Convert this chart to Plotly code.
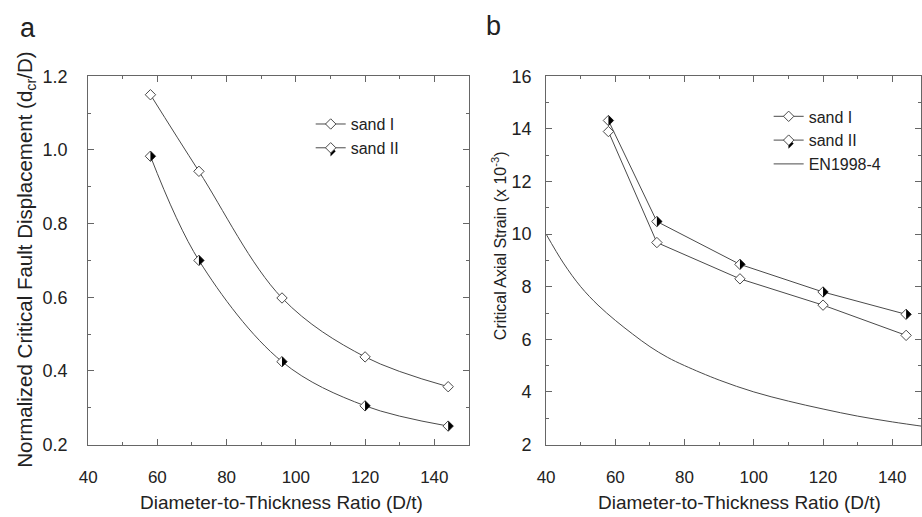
import plotly.graph_objects as go

# ---------------- data ----------------
dt = [58, 72, 96, 120, 144]
a_sand1 = [1.150, 0.942, 0.598, 0.438, 0.357]
a_sand2 = [0.983, 0.700, 0.425, 0.305, 0.250]
b_sand1 = [13.90, 9.68, 8.30, 7.30, 6.15]
b_sand2 = [14.32, 10.48, 8.85, 7.80, 6.95]
en_dt = [40, 45, 50, 55, 60, 65, 70, 75, 80, 90, 100, 110, 120, 130, 140, 150]
en_strain = [10.0, 8.9, 8.0, 7.3, 6.72, 6.2, 5.72, 5.32, 5.0, 4.45, 4.0, 3.65, 3.35, 3.08, 2.86, 2.67]

W, H = 922, 517
LINE = '#4a4a4a'
AX = '#666666'
TXT = '#222222'
FONT = 'Liberation Sans, Arial, sans-serif'
MS = 8

fig = go.Figure()

def mk():
    return dict(symbol='diamond', size=MS, color='white', line=dict(color=LINE, width=1))

# panel a
fig.add_trace(go.Scatter(x=dt, y=a_sand1, mode='lines+markers', name='sand I',
                         line=dict(color=LINE, width=1, shape='spline'), marker=mk(),
                         xaxis='x', yaxis='y', legend='legend2'))
fig.add_trace(go.Scatter(x=dt, y=a_sand2, mode='lines+markers', name='sand II',
                         line=dict(color=LINE, width=1, shape='spline'), marker=mk(),
                         xaxis='x', yaxis='y', legend='legend2'))
# panel b
fig.add_trace(go.Scatter(x=dt, y=b_sand1, mode='lines+markers', name='sand I',
                         line=dict(color=LINE, width=1), marker=mk(),
                         xaxis='x2', yaxis='y2', legend='legend'))
fig.add_trace(go.Scatter(x=dt, y=b_sand2, mode='lines+markers', name='sand II',
                         line=dict(color=LINE, width=1), marker=mk(),
                         xaxis='x2', yaxis='y2', legend='legend'))
fig.add_trace(go.Scatter(x=en_dt, y=en_strain, mode='lines', name='EN1998-4',
                         line=dict(color=LINE, width=1, shape='spline'),
                         xaxis='x2', yaxis='y2', legend='legend'))

# right half black fill for sand II diamonds
rd = MS / 2 * 1.3
half = f'M0,{-rd} L{rd},0 L0,{rd} Z'
shapes = []
for xr, yr, vals in (('x', 'y', a_sand2), ('x2', 'y2', b_sand2)):
    for xv, yv in zip(dt, vals):
        shapes.append(dict(type='path', path=half, xref=xr, yref=yr,
                           xsizemode='pixel', ysizemode='pixel',
                           xanchor=xv, yanchor=yv,
                           fillcolor='black', line=dict(width=0), layer='above'))

LEG_FS = 16
LEG_B = (768, 93)   # left, top in px
LEG_A = (305, 101)
ROW = 24
# legend symbols for sand II (second row)
for lx, ly in (LEG_B, LEG_A):
    shapes.append(dict(type='path', path=half, xref='paper', yref='paper',
                       xsizemode='pixel', ysizemode='pixel',
                       xanchor=(lx + 20) / W, yanchor=(H - (ly + ROW * 1.5 + 10)) / H,
                       fillcolor='black', line=dict(width=0), layer='above'))


def axis(rng, dtick, minor, domain, anchor, standoff, fs):
    return dict(range=rng, domain=domain, anchor=anchor, dtick=dtick,
                showline=True, linecolor=AX, linewidth=1, mirror='ticks',
                ticks='inside', ticklen=6, tickwidth=1, tickcolor=AX,
                minor=dict(ticks='inside', ticklen=3, dtick=minor, tickcolor=AX, tickwidth=1),
                showgrid=False, zeroline=False, ticklabelstandoff=standoff,
                tickfont=dict(size=fs, color=TXT, family=FONT))

ydom = [(H - 452) / H, (H - 69) / H]
xa = axis([40, 150], 20, 10, [80 / W, 465 / W], 'y', 17, 17)
xb = axis([40, 148.3], 20, 10, [543 / W, 1.0], 'y2', 17, 17)
ya = axis([0.2, 1.2], 0.2, 0.1, ydom, 'x', 16, 18)
ya['tickformat'] = '.1f'
yb = axis([2, 16], 2, 1, ydom, 'x2', 10, 18)

def ann(text, x, y, size, angle=0):
    return dict(text=text, x=x / W, y=(H - y) / H, xref='paper', yref='paper',
                showarrow=False, textangle=angle, xanchor='center', yanchor='middle',
                font=dict(size=size, color=TXT, family=FONT))

annotations = [
    ann('a', 19, 19, 27),
    ann('b', 490, 17, 27),
    ann('Diameter-to-Thickness Ratio (D/t)', 275, 512, 19),
    ann('Diameter-to-Thickness Ratio (D/t)', 739, 512, 19),
    ann('Normalized Critical Fault Displacement (d<sub>cr</sub>/D)', 17, 260, 20.5, -90),
    ann('Critical Axial Strain (x 10<sup>-3</sup>)', 495, 245, 16, -90),
]

leg = dict(font=dict(size=LEG_FS, color=TXT, family=FONT), bgcolor='rgba(0,0,0,0)',
           xanchor='left', yanchor='top', itemwidth=30, tracegroupgap=0)

fig.update_layout(
    width=W, height=H, margin=dict(l=0, r=0, t=0, b=0),
    paper_bgcolor='white', plot_bgcolor='white',
    font=dict(family=FONT, color=TXT),
    xaxis=xa, yaxis=ya, xaxis2=xb, yaxis2=yb,
    shapes=shapes, annotations=annotations,
    showlegend=True,
    legend=dict(leg, x=LEG_B[0] / W, y=(H - LEG_B[1]) / H),
    legend2=dict(leg, x=LEG_A[0] / W, y=(H - LEG_A[1]) / H),
)

fig.write_html('out.html')
